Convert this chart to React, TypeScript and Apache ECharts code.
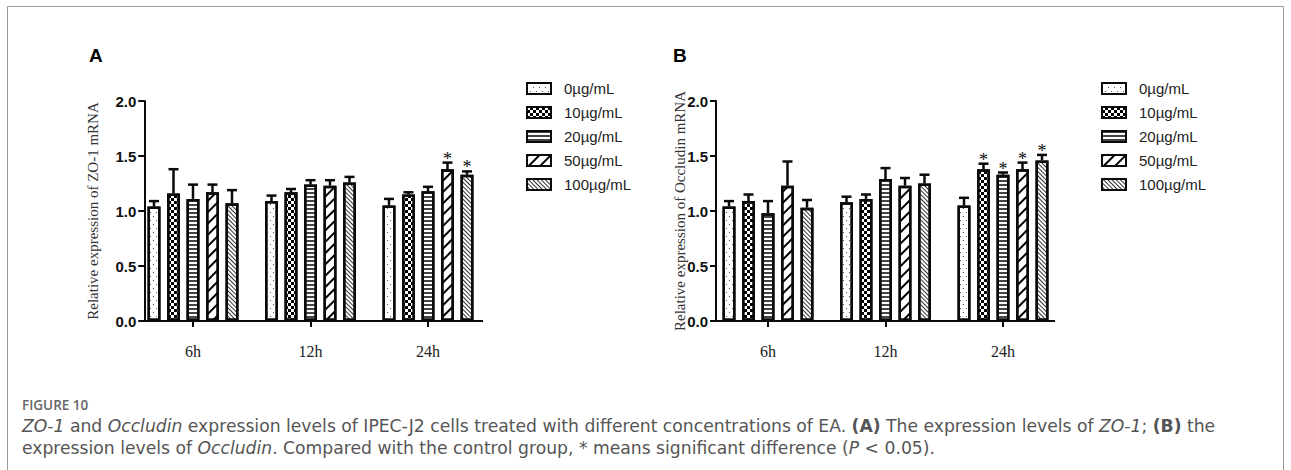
import React, { useEffect, useRef } from "react";
import * as echarts from "echarts";

// ---- data ----
const timePoints = ["6h", "12h", "24h"];
const concentrations = ["0µg/mL", "10µg/mL", "20µg/mL", "50µg/mL", "100µg/mL"];
const yTicks = [0, 0.5, 1.0, 1.5, 2.0];

// ZO-1 relative expression (mean, SD) per concentration across 6h / 12h / 24h
const zo1Mean0 = [1.04, 1.09, 1.05];
const zo1Mean10 = [1.16, 1.17, 1.15];
const zo1Mean20 = [1.11, 1.24, 1.18];
const zo1Mean50 = [1.17, 1.23, 1.38];
const zo1Mean100 = [1.07, 1.26, 1.33];
const zo1Err0 = [0.05, 0.05, 0.06];
const zo1Err10 = [0.22, 0.03, 0.02];
const zo1Err20 = [0.13, 0.04, 0.04];
const zo1Err50 = [0.07, 0.05, 0.06];
const zo1Err100 = [0.12, 0.05, 0.03];
const zo1Sig0 = [0, 0, 0];
const zo1Sig10 = [0, 0, 0];
const zo1Sig20 = [0, 0, 0];
const zo1Sig50 = [0, 0, 1];
const zo1Sig100 = [0, 0, 1];

// Occludin relative expression (mean, SD)
const occMean0 = [1.04, 1.08, 1.05];
const occMean10 = [1.09, 1.11, 1.38];
const occMean20 = [0.98, 1.29, 1.33];
const occMean50 = [1.23, 1.23, 1.38];
const occMean100 = [1.03, 1.25, 1.46];
const occErr0 = [0.05, 0.05, 0.07];
const occErr10 = [0.06, 0.04, 0.05];
const occErr20 = [0.11, 0.1, 0.02];
const occErr50 = [0.22, 0.07, 0.06];
const occErr100 = [0.07, 0.08, 0.05];
const occSig0 = [0, 0, 0];
const occSig10 = [0, 0, 1];
const occSig20 = [0, 0, 1];
const occSig50 = [0, 0, 1];
const occSig100 = [0, 0, 1];

const zo1Means = [zo1Mean0, zo1Mean10, zo1Mean20, zo1Mean50, zo1Mean100];
const zo1Errs = [zo1Err0, zo1Err10, zo1Err20, zo1Err50, zo1Err100];
const zo1Sigs = [zo1Sig0, zo1Sig10, zo1Sig20, zo1Sig50, zo1Sig100];
const occMeans = [occMean0, occMean10, occMean20, occMean50, occMean100];
const occErrs = [occErr0, occErr10, occErr20, occErr50, occErr100];
const occSigs = [occSig0, occSig10, occSig20, occSig50, occSig100];

// ---- styling ----
const BAR_WIDTH = 13;
const BAR_GAP = 0.5;
const BAR_PITCH = BAR_WIDTH * (1 + BAR_GAP);
const CAP_WIDTH = 10;
const INK = "#0a0a0a";

const decals: any[] = [
  // sparse dots
  { symbol: "rect", symbolSize: 1, dashArrayX: [[1, 5], [0, 3, 1, 2]], dashArrayY: [1, 3], color: "#555" },
  // checkerboard
  { symbol: "rect", symbolSize: 1, dashArrayX: [[3, 3], [0, 3, 3, 0]], dashArrayY: [3, 0], color: "#000" },
  // horizontal lines
  { symbol: "rect", symbolSize: 1, dashArrayX: [1, 0], dashArrayY: [2, 2], color: "#444" },
  // wide diagonal lines
  { symbol: "rect", symbolSize: 1, dashArrayX: [2, 6], dashArrayY: [1, 0], rotation: Math.PI / 4, color: "#000" },
  // dense diagonal lines
  { symbol: "rect", symbolSize: 1, dashArrayX: [1, 2], dashArrayY: [1, 0], rotation: -Math.PI / 4, color: "#333" },
];

// panel layout
const GRID_TOP = 101;
const GRID_HEIGHT = 220;
const BAND = 117.5;
const panels = [
  { left: 134.25, axisShift: 10, axisEnd: 483, name: "Relative expression of ZO-1 mRNA", nameGap: 44, letter: "A", letterX: 89, legendX: 521 },
  { left: 709.25, axisShift: 6.75, axisEnd: 1055, name: "Relative expression of Occludin mRNA", nameGap: 29, letter: "B", letterX: 673, legendX: 1096 },
];

function buildOption() {
  const grid: any[] = [];
  const xAxis: any[] = [];
  const yAxis: any[] = [];
  const series: any[] = [];
  const legend: any[] = [];
  const graphic: any[] = [];

  panels.forEach((p, g) => {
    grid.push({ left: p.left, top: GRID_TOP, width: BAND * 3, height: GRID_HEIGHT, containLabel: false });
    xAxis.push({
      type: "category",
      gridIndex: g,
      data: timePoints,
      axisLine: { show: false },
      axisTick: { show: true, alignWithLabel: true, length: 6, lineStyle: { color: INK, width: 2 } },
      axisLabel: { margin: 22, color: "#222", fontFamily: "Liberation Serif", fontSize: 16 },
      splitLine: { show: false },
    });
    yAxis.push({
      type: "value",
      gridIndex: g,
      min: 0,
      max: 2,
      interval: 0.5,
      offset: -p.axisShift,
      name: p.name,
      nameLocation: "middle",
      nameGap: p.nameGap,
      nameRotate: 90,
      nameMoveOverlap: false,
      nameTextStyle: { fontFamily: "Liberation Serif", fontSize: 15, color: "#333" },
      axisLine: { show: true, lineStyle: { color: INK, width: 2 } },
      axisTick: { show: true, length: 6, lineStyle: { color: INK, width: 2 } },
      axisLabel: {
        margin: 8,
        fontFamily: "Liberation Sans",
        fontWeight: "bold",
        fontSize: 15,
        color: "#111",
        formatter: (v: number) => (yTicks.includes(v) ? v.toFixed(1) : ""),
      },
      splitLine: { show: false },
    });

    const means = g === 0 ? zo1Means : occMeans;
    const errs = g === 0 ? zo1Errs : occErrs;
    const sigs = g === 0 ? zo1Sigs : occSigs;

    concentrations.forEach((c, i) => {
      series.push({
        type: "bar",
        name: c,
        xAxisIndex: g,
        yAxisIndex: g,
        data: means[i],
        barWidth: BAR_WIDTH,
        barGap: `${BAR_GAP * 100}%`,
        itemStyle: { color: "#fff", borderColor: INK, borderWidth: 2.5, decal: decals[i] },
        emphasis: { disabled: true },
        z: 2,
      });
    });

    concentrations.forEach((c, i) => {
      series.push({
        type: "custom",
        name: `sd ${c}`,
        xAxisIndex: g,
        yAxisIndex: g,
        clip: false,
        z: 3,
        encode: { x: 0, y: 1 },
        data: timePoints.map((_, k) => [k, means[i][k], errs[i][k], sigs[i][k]]),
        renderItem: (params: any, api: any) => {
          const k = api.value(0);
          const m = api.value(1);
          const e = api.value(2);
          const s = api.value(3);
          const base = api.coord([k, m]);
          const top = api.coord([k, m + e]);
          const x = base[0] + (i - 2) * BAR_PITCH;
          const children: any[] = [
            { type: "line", shape: { x1: x, y1: base[1], x2: x, y2: top[1] }, style: { stroke: INK, lineWidth: 2.5 } },
            { type: "line", shape: { x1: x - CAP_WIDTH / 2, y1: top[1], x2: x + CAP_WIDTH / 2, y2: top[1] }, style: { stroke: INK, lineWidth: 2.5 } },
          ];
          if (s) {
            children.push({
              type: "text",
              style: {
                text: "*",
                x: x,
                y: top[1] + 5,
                textAlign: "center",
                textVerticalAlign: "bottom",
                font: "18px 'Liberation Serif'",
                fill: INK,
              },
            });
          }
          return { type: "group", children };
        },
      });
    });

    legend.push({
      data: concentrations,
      orient: "vertical",
      left: p.legendX,
      top: 76,
      itemWidth: 24,
      itemHeight: 11,
      itemGap: 9,
      selectedMode: false,
      icon: "rect",
      textStyle: { fontFamily: "Liberation Sans", fontSize: 15, color: "#222", lineHeight: 15, padding: [0, 0, 0, 8] },
    });

    // x axis baseline running from the y axis to the end of the last group
    graphic.push({
      type: "line",
      shape: { x1: p.left + p.axisShift - 1, y1: GRID_TOP + GRID_HEIGHT, x2: p.axisEnd, y2: GRID_TOP + GRID_HEIGHT },
      style: { stroke: INK, lineWidth: 2 },
      z: 10,
    });
    graphic.push({
      type: "text",
      left: p.letterX,
      top: 46,
      style: { text: p.letter, font: "bold 19px 'Liberation Sans'", fill: "#000" },
    });
  });

  // figure frame and caption
  graphic.push({
    type: "rect",
    shape: { x: 7.5, y: 6.5, width: 1276, height: 520 },
    style: { fill: "none", stroke: "#9a9a9a", lineWidth: 1 },
    silent: true,
  });
  graphic.push({
    type: "text",
    left: 22,
    top: 398,
    style: { text: "FIGURE 10", font: "600 13.5px 'Open Sans'", fill: "#666" },
  });
  const CAPTION_FONT = "DejaVu Sans";
  const CAPTION_SIZE = 17.2;
  const rich = {
    i: { fontStyle: "italic", fontFamily: CAPTION_FONT, fontSize: CAPTION_SIZE, color: "#555" },
    b: { fontWeight: "bold", fontFamily: CAPTION_FONT, fontSize: CAPTION_SIZE, color: "#555" },
  };
  graphic.push({
    type: "text",
    left: 22,
    top: 417,
    style: {
      text:
        "{i|ZO-1} and {i|Occludin} expression levels of IPEC-J2 cells treated with different concentrations of EA. {b|(A)} The expression levels of {i|ZO-1}; {b|(B)} the",
      font: `${CAPTION_SIZE}px '${CAPTION_FONT}'`,
      fill: "#555",
      rich,
    },
  });
  graphic.push({
    type: "text",
    left: 22,
    top: 439,
    style: {
      text: "expression levels of {i|Occludin}. Compared with the control group, * means significant difference ({i|P} < 0.05).",
      font: `${CAPTION_SIZE}px '${CAPTION_FONT}'`,
      fill: "#555",
      rich,
    },
  });

  return {
    animation: false,
    backgroundColor: "#fff",
    grid,
    xAxis,
    yAxis,
    legend,
    series,
    graphic,
  };
}

export default function App() {
  const ref = useRef<HTMLDivElement>(null);
  useEffect(() => {
    document.body.style.margin = "0";
    if (!ref.current) return;
    const chart = echarts.init(ref.current, undefined, { renderer: "svg" });
    chart.setOption(buildOption() as any);
    return () => chart.dispose();
  }, []);
  return <div ref={ref} style={{ width: 1291, height: 470 }} />;
}
